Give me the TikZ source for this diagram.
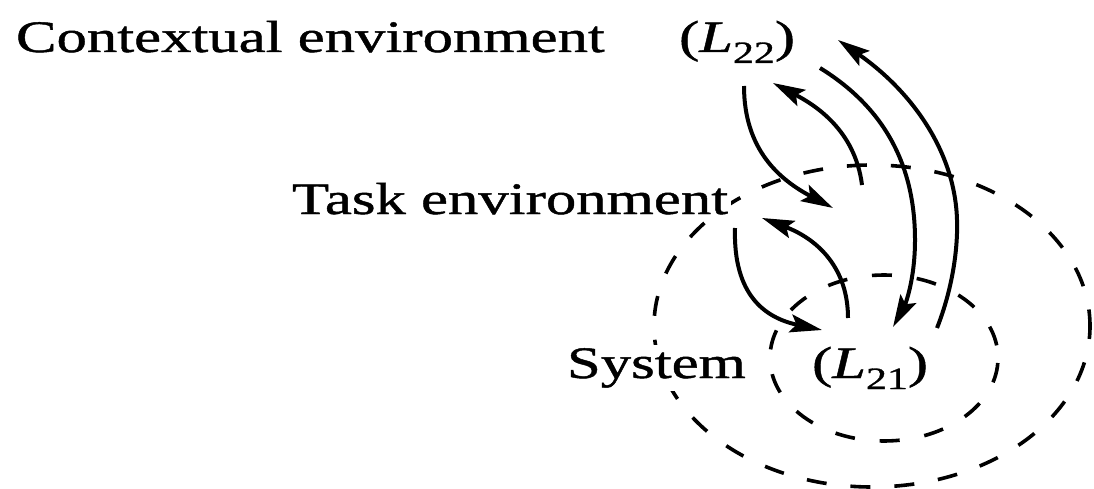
\documentclass[tikz,border=0pt]{standalone}
\usepackage{fontspec}
\setmainfont{Liberation Serif}[FakeStretch=1.35,FakeBold=1]
\usetikzlibrary{arrows.meta}
% lowered subscript for the level labels
\newcommand{\lowsub}[1]{\raisebox{-11pt}{\fontsize{31}{31}\selectfont #1}}
\begin{document}
\begin{tikzpicture}[x=1pt,y=-1pt,
  lbl/.style={inner sep=3pt, outer sep=0pt, fill=white, anchor=base west,
              font=\fontsize{45}{54}\selectfont},
  flow/.style={line width=4pt, -{Stealth[length=32pt,width=18pt,inset=6pt]}},
  bound/.style={line width=3.6pt}]
\useasboundingbox (0,0) rectangle (1094,489);

% boundaries of the task environment and of the system
\draw[bound, dash pattern=on 20pt off 24pt, dash phase=7pt]
  (872,326) ellipse [x radius=218, y radius=161];
\draw[bound, dash pattern=on 20pt off 25pt, dash phase=40pt]
  (884,358) ellipse [x radius=114, y radius=83];

% labels (white ground hides the boundary behind the words)
\node[lbl] (ctx) at (13,52) {Contextual environment};
\node[lbl] (l22) at (676,52) {(\textit{L}\lowsub{22})};
\node[lbl] (task) at (289,214) {Task environment};
\node[lbl] (sys) at (564,378) {System};
\node[lbl, fill=none] (l21) at (809,378) {(\textit{L}\lowsub{21})};

% end points of the exchanges
\coordinate (a1s) at (744,86);   \coordinate (a1e) at (833,208);
\coordinate (a2s) at (862,185);  \coordinate (a2e) at (773,83);
\coordinate (a3s) at (820,68);   \coordinate (a3m) at (915,240);  \coordinate (a3e) at (893,327);
\coordinate (a4s) at (937,328);  \coordinate (a4m) at (957,220);  \coordinate (a4e) at (838,40);
\coordinate (a5s) at (735,228);  \coordinate (a5e) at (822,330);
\coordinate (a6s) at (848,318);  \coordinate (a6e) at (762,218);

% contextual environment <-> task environment
\draw[flow] (a1s) .. controls (744,150) and (780,180) .. (a1e);
\draw[flow] (a2s) .. controls (855,130) and (815,105) .. (a2e);

% contextual environment <-> system
\draw[flow] (a3s) .. controls (880,105) and (915,160) .. (a3m)
                  .. controls (915,280) and (905,305) .. (a3e);
\draw[flow] (a4s) .. controls (952,290) and (958,250) .. (a4m)
                  .. controls (955,150) and (910,90) .. (a4e);

% task environment <-> system
\draw[flow] (a5s) .. controls (733,295) and (765,318) .. (a5e);
\draw[flow] (a6s) .. controls (848,270) and (820,240) .. (a6e);
\end{tikzpicture}
\end{document}
